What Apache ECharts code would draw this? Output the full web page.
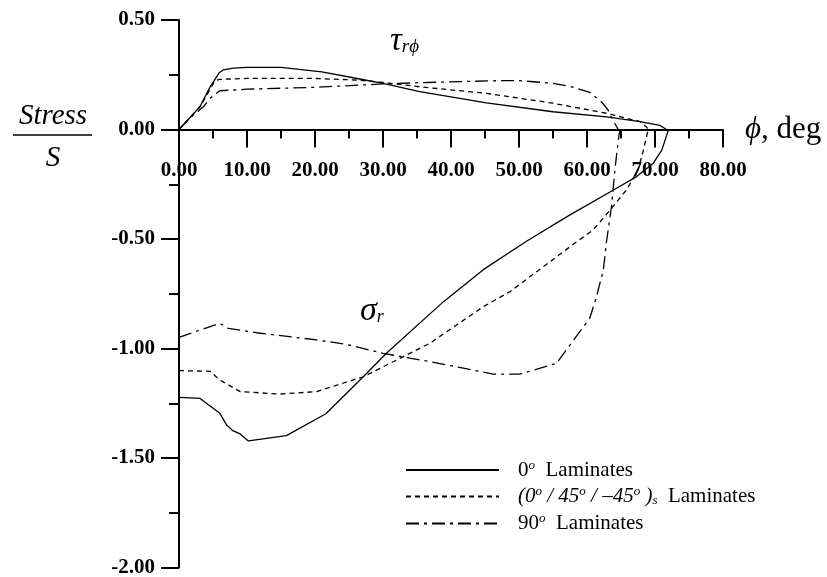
<!DOCTYPE html>
<html>
<head>
<meta charset="utf-8">
<title>Stress distribution</title>
<script src="https://cdn.jsdelivr.net/npm/echarts@6/dist/echarts.min.js"></script>
<style>
  html, body { margin: 0; padding: 0; background: #fff; }
  #chart { width: 827px; height: 577px; }
</style>
</head>
<body>
<div id="chart"></div>
<script>
// Laminate names (legend entries)
const laminates = ['0° Laminates', '(0°/45°/−45°)s Laminates', '90° Laminates'];

// Shear stress tau_r-phi / S against phi (deg)
const tauDeg0 = [0, 1.5, 3.1, 4.5, 5.9, 6.5, 8, 10, 15, 21, 26, 30, 35.4, 45.2, 55, 62.9, 67.8, 70.7, 71.7];
const tauVal0 = [0, 0.05, 0.105, 0.19, 0.259, 0.272, 0.28, 0.284, 0.284, 0.263, 0.234, 0.211, 0.173, 0.122, 0.081, 0.058, 0.036, 0.019, 0];

const tauDeg45 = [0, 1.5, 3.1, 4.5, 5.3, 6.0, 10, 20, 26, 30, 35.4, 45.25, 55, 62.9, 67.8, 68.7, 69.0];
const tauVal45 = [0, 0.05, 0.105, 0.18, 0.223, 0.229, 0.233, 0.233, 0.226, 0.215, 0.195, 0.165, 0.12, 0.074, 0.036, 0.013, 0];

const tauDeg90 = [0, 1.5, 3.6, 4.56, 6.0, 10, 20.25, 30, 35.4, 47.2, 50.1, 55, 57.7, 60.4, 62.1, 63.1, 63.8, 64.6];
const tauVal90 = [0, 0.05, 0.104, 0.142, 0.177, 0.184, 0.193, 0.208, 0.214, 0.223, 0.223, 0.211, 0.195, 0.17, 0.127, 0.089, 0.043, 0];

// Radial stress sigma_r / S against phi (deg)
const sigDeg0 = [0, 3.1, 6.0, 7.0, 7.9, 9.0, 10.2, 15.8, 21.6, 27.1, 30.5, 38.9, 44.75, 51.1, 57.5, 63.9, 67.3, 69.75, 71.0, 72.0];
const sigVal0 = [-1.223, -1.228, -1.296, -1.349, -1.375, -1.39, -1.422, -1.398, -1.298, -1.129, -1.022, -0.786, -0.64, -0.51, -0.39, -0.276, -0.215, -0.154, -0.094, 0];

const sigDeg45 = [0, 4.56, 6.0, 9.0, 14.85, 20.25, 27.1, 33.0, 36.9, 44.75, 48.7, 58.5, 60.9, 63.4, 65.8, 67.5, 68.3, 69.0];
const sigVal45 = [-1.101, -1.104, -1.144, -1.197, -1.208, -1.197, -1.129, -1.037, -0.976, -0.809, -0.74, -0.512, -0.459, -0.368, -0.276, -0.185, -0.094, 0];

const sigDeg90 = [0, 6.0, 7.25, 11.4, 20.25, 24.6, 30, 36.9, 41.8, 46.2, 50.1, 55.5, 60.4, 61.4, 62.4, 62.9, 63.6, 64.1, 64.6, 64.85];
const sigVal90 = [-0.949, -0.885, -0.908, -0.928, -0.961, -0.981, -1.022, -1.06, -1.09, -1.117, -1.117, -1.068, -0.862, -0.763, -0.642, -0.505, -0.352, -0.185, -0.048, 0];

// Axis ranges
const xRange = [0, 80, 10];
const yRange = [-2, 0.5, 0.5];

const SERIF = '"Liberation Serif", "Times New Roman", serif';
const dashStyles = ['solid', [5, 4], [13, 5, 3, 5]];

// Plot area in pixels; the phi axis is lifted to sit on Stress/S = 0
const GRID = { left: 179, right: 104, top: 20, bottom: 9.5 };
const plotH = 577 - GRID.top - GRID.bottom;
const zeroLift = plotH * (0 - yRange[0]) / (yRange[1] - yRange[0]);

function curve(idx, degs, vals) {
  return {
    type: 'line',
    name: laminates[idx],
    data: degs.map((d, i) => [d, vals[i]]),
    symbol: 'none',
    silent: true,
    lineStyle: { color: '#000', width: 1.3, type: dashStyles[idx] },
    itemStyle: { color: '#000' },
    z: 3
  };
}

const legendText = {
  [laminates[0]]: '{gap|}{n|0}{sup|o}{n|  Laminates}',
  [laminates[1]]: '{gap|}{i|(0}{supi|o}{i| / 45}{supi|o}{i| / –45}{supi|o}{i| )}{subi|s}{n|  Laminates}',
  [laminates[2]]: '{gap|}{n|90}{sup|o}{n|  Laminates}'
};

const chart = echarts.init(document.getElementById('chart'));
chart.setOption({
  animation: false,
  backgroundColor: '#fff',
  grid: Object.assign({ outerBoundsMode: 'none', containLabel: false }, GRID),
  xAxis: {
    type: 'value',
    position: 'bottom',
    offset: -zeroLift,
    min: xRange[0], max: xRange[1], interval: xRange[2],
    axisLine: { onZero: false, lineStyle: { color: '#000', width: 2 } },
    axisTick: { length: 18, lineStyle: { color: '#000', width: 2 } },
    minorTick: { show: true, splitNumber: 2, length: 9, lineStyle: { color: '#000', width: 2 } },
    splitLine: { show: false },
    axisLabel: {
      margin: 31, color: '#000', fontFamily: SERIF, fontWeight: 'bold', fontSize: 21,
      showMinLabel: true, showMaxLabel: true, hideOverlap: false,
      formatter: v => v.toFixed(2)
    },
    name: '{p|ϕ}{d|, deg}',
    nameLocation: 'end',
    nameGap: 22,
    nameTextStyle: {
      align: 'left', verticalAlign: 'middle',
      rich: {
        p: { fontFamily: SERIF, fontStyle: 'italic', fontSize: 31, color: '#000' },
        d: { fontFamily: SERIF, fontSize: 31, color: '#000' }
      }
    }
  },
  yAxis: {
    type: 'value',
    min: yRange[0], max: yRange[1], interval: yRange[2],
    axisLine: { show: true, onZero: false, lineStyle: { color: '#000', width: 2 } },
    axisTick: { show: true, length: 18, lineStyle: { color: '#000', width: 2 } },
    minorTick: { show: true, splitNumber: 2, length: 10, lineStyle: { color: '#000', width: 2 } },
    splitLine: { show: false },
    axisLabel: {
      margin: 24, color: '#000', fontFamily: SERIF, fontWeight: 'bold', fontSize: 21,
      showMinLabel: true, showMaxLabel: true,
      formatter: v => v.toFixed(2)
    }
  },
  legend: {
    orient: 'vertical',
    left: 400, top: 454,
    itemWidth: 93, itemHeight: 14, itemGap: 5,
    selectedMode: false,
    data: laminates,
    itemStyle: { color: 'rgba(0,0,0,0)', borderWidth: 0, opacity: 0 },
    formatter: name => legendText[name],
    textStyle: {
      color: '#000', fontFamily: SERIF, fontSize: 21,
      rich: {
        gap: { width: 14 },
        n: { fontFamily: SERIF, fontSize: 21, color: '#000', lineHeight: 22 },
        i: { fontFamily: SERIF, fontStyle: 'italic', fontSize: 21, color: '#000', lineHeight: 22 },
        sup: { fontFamily: SERIF, fontStyle: 'italic', fontSize: 13, color: '#000', lineHeight: 12, verticalAlign: 'top' },
        supi: { fontFamily: SERIF, fontStyle: 'italic', fontSize: 13, color: '#000', lineHeight: 12, verticalAlign: 'top' },
        subi: { fontFamily: SERIF, fontStyle: 'italic', fontSize: 13, color: '#000', lineHeight: 12, verticalAlign: 'bottom' }
      }
    }
  },
  graphic: [
    {
      type: 'text', left: 390, top: 25, silent: true,
      style: {
        text: '{g|τ}{s|rϕ}',
        rich: {
          g: { fontFamily: SERIF, fontStyle: 'italic', fontSize: 33, fill: '#000', lineHeight: 30 },
          s: { fontFamily: SERIF, fontStyle: 'italic', fontSize: 19, fill: '#000', lineHeight: 18, verticalAlign: 'bottom' }
        }
      }
    },
    {
      type: 'text', left: 360, top: 294, silent: true,
      style: {
        text: '{g|σ}{s|r}',
        rich: {
          g: { fontFamily: SERIF, fontStyle: 'italic', fontSize: 34, fill: '#000', lineHeight: 30 },
          s: { fontFamily: SERIF, fontStyle: 'italic', fontSize: 18, fill: '#000', lineHeight: 18, verticalAlign: 'bottom' }
        }
      }
    },
    {
      type: 'text', x: 53, y: 116, silent: true,
      style: { text: 'Stress', fontFamily: SERIF, fontStyle: 'italic', fontSize: 29, fill: '#000', align: 'center', verticalAlign: 'middle' }
    },
    {
      type: 'line', silent: true,
      shape: { x1: 13, y1: 135, x2: 92, y2: 135 },
      style: { stroke: '#000', lineWidth: 1.5 }
    },
    {
      type: 'text', x: 53, y: 158, silent: true,
      style: { text: 'S', fontFamily: SERIF, fontStyle: 'italic', fontSize: 29, fill: '#000', align: 'center', verticalAlign: 'middle' }
    }
  ],
  series: [
    curve(0, tauDeg0, tauVal0),
    curve(0, sigDeg0, sigVal0),
    curve(1, tauDeg45, tauVal45),
    curve(1, sigDeg45, sigVal45),
    curve(2, tauDeg90, tauVal90),
    curve(2, sigDeg90, sigVal90)
  ]
});
</script>
</body>
</html>
